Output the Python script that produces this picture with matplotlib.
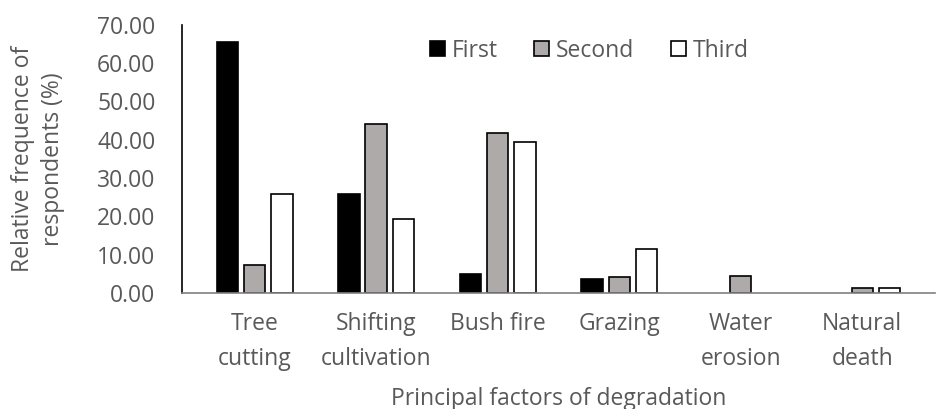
import matplotlib.pyplot as plt
import numpy as np

categories = ["Tree\ncutting", "Shifting\ncultivation", "Bush fire", "Grazing", "Water\nerosion", "Natural\ndeath"]
first = [65.5, 25.8, 4.9, 3.6, 0.0, 0.0]
second = [7.3, 44.2, 41.8, 4.2, 4.4, 1.2]
third = [25.8, 19.3, 39.5, 11.4, 0.0, 1.2]

plt.rcParams["font.family"] = ["Open Sans", "DejaVu Sans"]
text_color = "#595959"
fs = 16.5

fig = plt.figure(figsize=(9.37, 4.09), dpi=100)
ax = fig.add_axes([0.194, 0.284, 0.804, 0.655])

x = np.arange(len(categories))
w = 0.176
step = 0.224


def edges(vals):
    # no outline for empty bars, so they don't leave a stub on the axis
    return ["black" if v > 0 else "none" for v in vals]


ax.bar(x - step, first, width=w, color="black", edgecolor=edges(first), linewidth=1.2, label="First")
ax.bar(x, second, width=w, color="#AEAAAA", edgecolor=edges(second), linewidth=1.2, label="Second")
ax.bar(x + step, third, width=w, color="white", edgecolor=edges(third), linewidth=1.2, label="Third")

ax.set_xlim(-0.6, len(categories) - 0.4)
ax.set_ylim(0, 70)
ax.set_yticks(range(0, 71, 10))
ax.set_yticklabels([f"{v:.2f}" for v in range(0, 71, 10)])
ax.set_xticks(x)
ax.set_xticklabels(categories, linespacing=1.6, va="top")
ax.tick_params(axis="both", length=0, labelsize=fs, colors=text_color)
ax.tick_params(axis="y", pad=19)
ax.tick_params(axis="x", pad=14)

for s in ["top", "right"]:
    ax.spines[s].set_visible(False)
ax.spines["left"].set_color("black")
ax.spines["left"].set_linewidth(1.2)
ax.spines["bottom"].set_color("#808080")
ax.spines["bottom"].set_linewidth(1.2)

ax.set_ylabel("Relative frequence of\nrespondents (%)", fontsize=fs, color=text_color,
              linespacing=1.35, va="center")
ax.yaxis.set_label_coords(-0.191, 0.5)
ax.set_xlabel("Principal factors of degradation", fontsize=fs, color=text_color, va="center")
ax.xaxis.set_label_coords(0.5, -0.395)

leg = ax.legend(loc="center", bbox_to_anchor=(0.541, 0.904), ncol=3, frameon=False,
                fontsize=fs, handlelength=0.65, handleheight=0.65, handletextpad=0.3,
                columnspacing=1.6)
for h in leg.legend_handles:
    h.set_edgecolor("black")
for t in leg.get_texts():
    t.set_color(text_color)

fig.savefig("out.png", dpi=100)
